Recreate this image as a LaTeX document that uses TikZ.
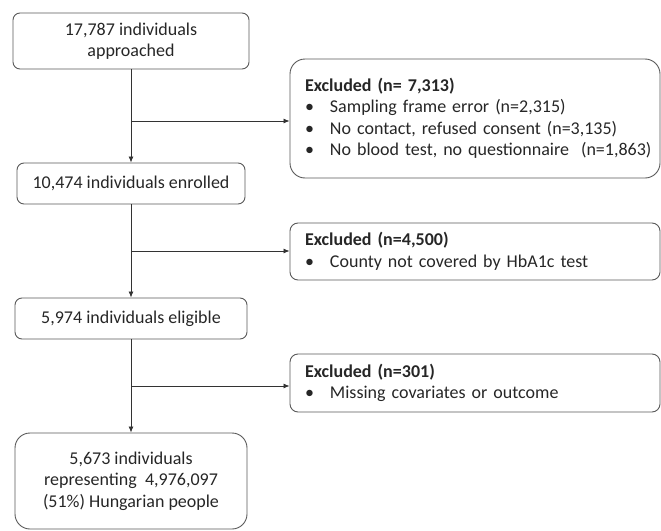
\documentclass[tikz,border=0pt]{standalone}
\usepackage{fontspec}
\setmainfont{Carlito}
\usetikzlibrary{arrows.meta}
\tikzset{
  mainbox/.style={draw=black!65, line width=0.9pt, rounded corners=#1, inner sep=0pt,
    align=center, text=black!85, font=\fontsize{18}{21.5}\selectfont},
  mainbox/.default=7pt,
  exclbox/.style={draw=black!65, line width=0.9pt, rounded corners=#1, inner xsep=15pt, inner ysep=0pt,
    text width=340pt, minimum width=370pt, align=left, text=black!85, font=\fontsize{18}{21.5}\selectfont},
  exclbox/.default=8pt,
  flow/.style={draw=black!80, line width=0.8pt, -{Latex[length=6pt,width=5pt]}},
}
\newcommand{\bitem}[1]{\mbox{\makebox[25pt][l]{•}#1}}
\begin{document}
\begin{tikzpicture}[x=1pt,y=-1pt]
\useasboundingbox (0,0) rectangle (661,530);
\node[mainbox, minimum width=236pt, minimum height=56pt] (b1) at (131,41) {17,787 individuals\\approached};
\node[mainbox, minimum width=228pt, minimum height=41pt] (b2) at (131,183.5) {10,474 individuals enrolled};
\node[mainbox, minimum width=232pt, minimum height=41pt] (b3) at (131,318.5) {5,974 individuals eligible};
\node[mainbox=15pt, minimum width=232pt, minimum height=96pt] (b4) at (131,481) {5,673 individuals\\representing~ 4,976,097\\(51\%) Hungarian people};

\node[exclbox=15pt, minimum height=119pt] (e1) at (475,118.5) {\textbf{Excluded (n= 7,313)}\\\bitem{Sampling frame error (n=2,315)}\\\bitem{No contact, refused consent (n=3,135)}\\\bitem{No blood test, no questionnaire~ (n=1,863)}};
\node[exclbox, minimum height=57pt] (e2) at (475,251.5) {\textbf{Excluded (n=4,500)}\\\bitem{County not covered by HbA1c test}};
\node[exclbox, minimum height=58pt] (e3) at (475,383) {\textbf{Excluded (n=301)}\\\bitem{Missing covariates or outcome}};

\coordinate (j1) at (131,121);
\coordinate (j2) at (131,251);
\coordinate (j3) at (131,386);

\draw[flow] (b1) -- (b2);
\draw[flow] (b2) -- (b3);
\draw[flow] (b3) -- (b4);
\draw[flow] (j1) -- (j1 -| e1.west);
\draw[flow] (j2) -- (j2 -| e2.west);
\draw[flow] (j3) -- (j3 -| e3.west);
\end{tikzpicture}
\end{document}
